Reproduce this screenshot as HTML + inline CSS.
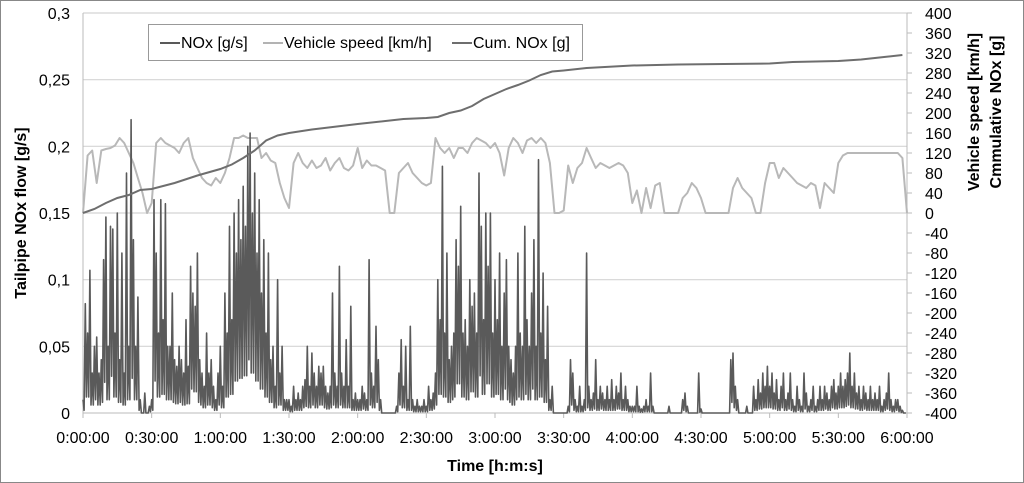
<!DOCTYPE html>
<html><head><meta charset="utf-8"><style>
html,body{margin:0;padding:0;background:#fff;}
svg{display:block;font-family:"Liberation Sans",sans-serif;}
</style></head><body>
<svg id="chart" width="1024" height="483" viewBox="0 0 1024 483">
<rect x="0.5" y="0.5" width="1023" height="482" fill="#fff" stroke="#888"/>
<g id="grid"></g><g id="axes"></g><g id="series"></g>
<g>
<rect x="148.5" y="24.5" width="434" height="36" fill="#fff" stroke="#999"/>
<line x1="160" y1="43" x2="180" y2="43" stroke="#595959" stroke-width="2"/>
<text x="181" y="48" font-size="16" fill="#000">NOx [g/s]</text>
<line x1="263" y1="43" x2="283" y2="43" stroke="#b3b3b3" stroke-width="2"/>
<text x="284" y="48" font-size="16" fill="#000">Vehicle speed [km/h]</text>
<line x1="452" y1="43" x2="472" y2="43" stroke="#6e6e6e" stroke-width="2"/>
<text x="473" y="48" font-size="16" fill="#000">Cum. NOx [g]</text>
</g>
<text transform="translate(26,213) rotate(-90)" text-anchor="middle" font-size="16" font-weight="bold">Tailpipe NOx flow [g/s]</text>
<text transform="translate(979,112) rotate(-90)" text-anchor="middle" font-size="16" font-weight="bold">Vehicle speed [km/h]</text>
<text transform="translate(1001,112) rotate(-90)" text-anchor="middle" font-size="16" font-weight="bold">Cmmulative NOx [g]</text>
<text x="495" y="471" text-anchor="middle" font-size="16" font-weight="bold">Time [h:m:s]</text>
</svg>
<script>
const xTickLabels=["0:00:00","0:30:00","1:00:00","1:30:00","2:00:00","2:30:00","3:00:00","3:30:00","4:00:00","4:30:00","5:00:00","5:30:00","6:00:00"];
const leftTickLabels=["0","0,05","0,1","0,15","0,2","0,25","0,3"];
const rightTicks=[-400,-360,-320,-280,-240,-200,-160,-120,-80,-40,0,40,80,120,160,200,240,280,320,360,400];
const noxValues=[
0.01,0.082,0.06,0.107,0.03,0.05,0.057,0.03,0.04,0.115,0.147,0.05,0.14,0.138,0.06,0.15,0.04,0.12,0.03,0.18,0.05,0.22,0.13,0.05,0.087,0.01,0,0.015,0,0.005,
0.01,0.16,0.12,0.06,0.16,0.07,0.157,0.05,0.05,0.09,0.04,0.035,0.05,0.04,0.03,0.07,0.035,0.11,0.09,0.08,0.12,0.04,0.03,0.02,0.06,0.03,0.04,0.02,0.01,0.03,
0.05,0.02,0.09,0.06,0.14,0.07,0.15,0.12,0.16,0.13,0.17,0.14,0.2,0.21,0.15,0.18,0.12,0.16,0.09,0.13,0.06,0.12,0.04,0.05,0.02,0.1,0.03,0.05,0.01,0.01,
0.01,0.005,0.02,0.01,0.015,0.01,0.02,0.025,0.05,0.02,0.045,0.03,0.02,0.035,0.03,0.035,0.02,0.015,0.02,0.09,0.03,0.02,0.11,0.03,0.02,0.055,0.02,0.08,0.01,0.015,
0.01,0.01,0.02,0.015,0.01,0.115,0.03,0.02,0.065,0.04,0.01,0,0,0,0,0,0,0.005,0.03,0.055,0.02,0.05,0.01,0.065,0.01,0.005,0.01,0.005,0.005,0.01,
0.005,0.02,0.01,0.015,0.03,0.1,0.07,0.185,0.06,0.12,0.04,0.05,0.06,0.13,0.11,0.155,0.06,0.07,0.05,0.1,0.08,0.09,0.06,0.18,0.14,0.07,0.15,0.11,0.15,0.06,
0.1,0.07,0.12,0.05,0.09,0.115,0.05,0.04,0.03,0.05,0.12,0.06,0.05,0.14,0.07,0.05,0.09,0.13,0.05,0.19,0.06,0.105,0.04,0.08,0.01,0.02,0,0,0,0,
0,0,0.005,0.04,0.03,0.01,0.005,0.02,0.005,0.01,0.12,0.02,0.01,0.015,0.04,0.01,0.02,0.015,0.01,0.02,0.01,0.025,0.01,0.02,0.015,0.03,0.01,0.02,0.01,0.005,
0.005,0.005,0.02,0.005,0.003,0.005,0.01,0.005,0.03,0.005,0,0,0,0,0,0,0.005,0,0,0,0,0,0.01,0.015,0.005,0,0,0,0,0.03,
0.003,0,0,0,0,0,0,0,0,0,0,0,0,0.04,0.045,0.02,0.01,0,0,0,0.005,0,0,0.02,0.01,0.025,0.015,0.03,0.02,0.035,
0.02,0.03,0.015,0.025,0.01,0.02,0.03,0.01,0.015,0.03,0.01,0.005,0.02,0.01,0.005,0.03,0.015,0.005,0.01,0.02,0.005,0.01,0.02,0.01,0.02,0.015,0.01,0.02,0.025,0.015,
0.02,0.03,0.02,0.025,0.03,0.045,0.02,0.03,0.015,0.02,0.01,0.02,0.015,0.01,0.02,0.01,0.015,0.01,0.02,0.005,0.01,0.015,0.03,0.01,0.005,0.01,0.01,0.005,0.002,0];
const speedValues=[0,115,125,60,125,128,130,135,150,140,120,100,70,40,0,20,140,150,140,135,130,120,140,150,110,90,70,60,55,70,
60,80,110,150,150,155,150,150,150,110,120,105,100,60,30,10,100,120,100,90,105,90,95,110,85,100,110,90,85,95,
130,90,105,95,95,90,85,0,0,80,90,100,80,70,60,55,60,150,130,120,130,110,130,130,120,140,150,145,140,130,
140,120,75,130,150,140,120,145,150,140,150,140,100,0,0,5,95,60,90,100,130,110,90,100,95,90,95,100,95,80,
20,45,0,50,10,55,60,0,0,0,0,30,40,60,50,30,0,0,0,0,0,0,50,70,50,40,30,0,0,60,
100,100,70,90,80,70,60,55,50,60,55,10,60,50,40,100,115,120,120,120,120,120,120,120,120,120,120,120,120,110,0];
const cumTimes=[0,5,10,15,20,25,30,40,50,60,65,70,75,80,85,90,100,120,140,150,155,160,165,170,175,180,185,190,195,200,205,210,220,240,260,280,300,310,330,340,350,358];
const cumValues=[0,8,20,30,36,46,48,60,75,88,97,110,125,145,155,160,167,178,188,190,192,200,205,214,228,238,248,256,265,276,283,285,290,295,297,298,299,302,304,307,312,316];

const X0=83,X1=907,YT=13,YB=413;
const xS=t=>X0+t/360*(X1-X0);
const yL=v=>YB-v/0.3*(YB-YT);
const yR=v=>YB-(v+400)/800*(YB-YT);
const NS="http://www.w3.org/2000/svg";
function mk(tag,parent,attrs){const e=document.createElementNS(NS,tag);for(const k in attrs)e.setAttribute(k,attrs[k]);parent.appendChild(e);return e;}
const grid=document.getElementById('grid'),axes=document.getElementById('axes'),series=document.getElementById('series');
leftTickLabels.forEach((lab,i)=>{const v=i*0.05,y=yL(v);
 if(i>0){const g=mk('line',grid,{x1:X0,x2:X1,y1:y,y2:y,stroke:'#d4d4d4','stroke-width':1.2});
 
 }
 const t=mk('text',axes,{x:70,y:y+6,'text-anchor':'end','font-size':16});t.textContent=lab;
 
 
});
mk('line',axes,{x1:X0,x2:X0,y1:YT,y2:YB,stroke:'#bbb'});
mk('line',axes,{x1:X0,x2:X1,y1:YB,y2:YB,stroke:'#bbb'});
mk('line',axes,{x1:X1,x2:X1,y1:YT,y2:YB,stroke:'#bbb'});
rightTicks.forEach(v=>{const y=yR(v);
 mk('line',axes,{x1:X1,x2:X1+5,y1:y,y2:y,stroke:'#bbb'});
 const t=mk('text',axes,{x:925,y:y+6,'font-size':16});t.textContent=v;
 
 
});
xTickLabels.forEach((lab,i)=>{const x=xS(i*30);
 mk('line',axes,{x1:x,x2:x,y1:YB,y2:YB+5,stroke:'#bbb'});
 const t=mk('text',axes,{x:x,y:443,'text-anchor':'middle','font-size':16});t.textContent=lab;
 
 
});
let d='';speedValues.forEach((v,i)=>{d+=(i?'L':'M')+xS(i*2).toFixed(1)+' '+yR(v).toFixed(1);});
const sp=mk('path',series,{d:d,fill:'none',stroke:'#b8b8b8','stroke-width':2,'stroke-linejoin':'round'});


d='';noxValues.forEach((v,i)=>{const nx=i+1<noxValues.length?noxValues[i+1]:0;
 d+=(i?'L':'M')+xS(i).toFixed(1)+' '+yL(v).toFixed(1);
 d+='L'+xS(i+0.5).toFixed(1)+' '+yL(Math.min(v,nx)*0.2).toFixed(1);});
const nx=mk('path',series,{d:d,fill:'none',stroke:'#5a5a5a','stroke-width':1.6,'stroke-linejoin':'round'});


d='';cumTimes.forEach((t,i)=>{d+=(i?'L':'M')+xS(t).toFixed(1)+' '+yR(cumValues[i]).toFixed(1);});
const cu=mk('path',series,{d:d,fill:'none',stroke:'#6e6e6e','stroke-width':2});


</script>
</body></html>
